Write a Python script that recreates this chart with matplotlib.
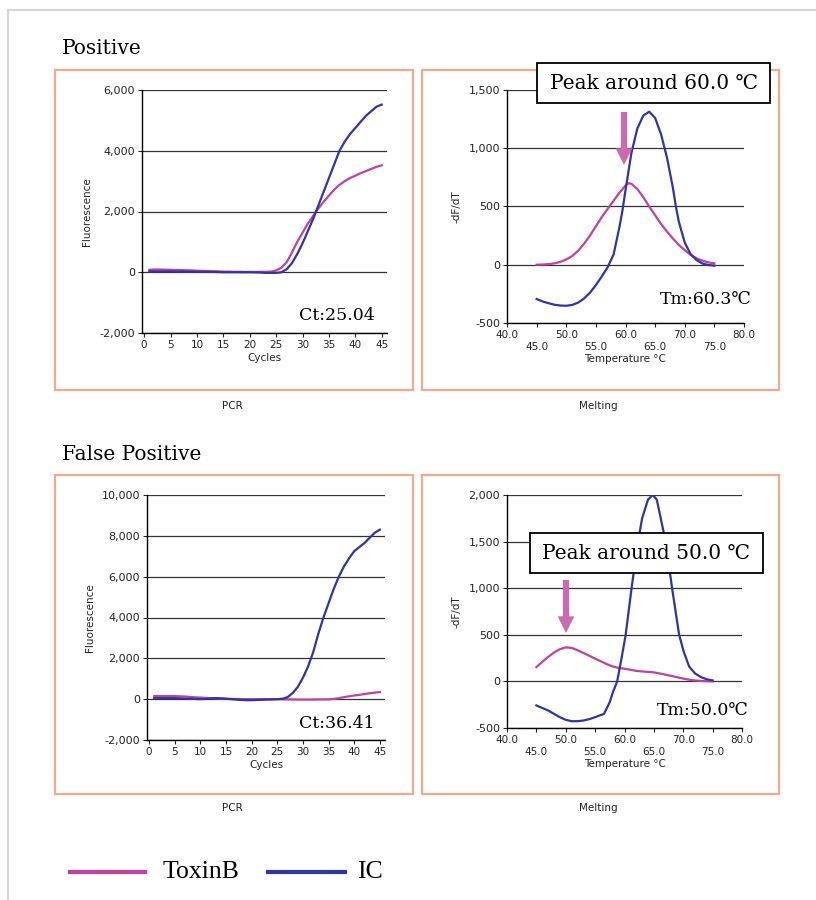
import matplotlib
matplotlib.use("Agg")
import matplotlib.pyplot as plt
from matplotlib.lines import Line2D
from matplotlib.patches import Rectangle
from matplotlib.ticker import FuncFormatter

# ---- data ----
cycles = list(range(1, 46))

pos_toxin = [80, 90, 90, 85, 80, 75, 70, 65, 60, 50, 45, 40, 35, 30, 20, 20, 15, 15, 10, 10,
             10, 15, 15, 20, 60, 150, 330, 650, 1000, 1300, 1600, 1850, 2100, 2320, 2520,
             2720, 2880, 3000, 3100, 3180, 3260, 3330, 3400, 3470, 3520]
pos_ic = [30, 30, 30, 30, 30, 25, 25, 20, 20, 15, 15, 10, 10, 5, 0, 0, 0, 0, 0, 0,
          -5, -10, -20, -20, -20, 0, 100, 300, 600, 950, 1350, 1750, 2200, 2650, 3100,
          3550, 4000, 4300, 4550, 4750, 4950, 5150, 5300, 5450, 5520]

fp_toxin = [150, 150, 150, 150, 150, 140, 130, 110, 90, 80, 60, 50, 40, 30, 20, 15, 10, 5, 0, 0,
            0, 0, 0, 0, 0, -5, -10, -15, -20, -20, -20, -20, -15, -10, -10, 10, 50, 100, 140,
            180, 210, 250, 290, 320, 350]
fp_ic = [50, 50, 50, 50, 50, 40, 30, 20, 10, 0, 10, 30, 50, 40, 20, 0, -20, -40, -50, -50,
         -40, -30, -20, -10, 0, 20, 100, 300, 600, 1050, 1600, 2300, 3200, 4000, 4700,
         5400, 6000, 6500, 6900, 7250, 7450, 7650, 7900, 8150, 8300]

temp_pos_t = [45, 46, 47, 48, 49, 50, 51, 52, 53, 54, 55, 56, 57, 58, 59, 60, 60.5, 61, 62,
              63, 64, 65, 66, 67, 68, 69, 70, 71, 72, 73, 74, 75]
pos_melt_toxin = [0, 2, 5, 12, 25, 45, 75, 120, 180, 250, 330, 410, 480, 550, 620, 680, 700,
                  695, 650, 580, 500, 425, 350, 285, 225, 170, 125, 85, 55, 35, 20, 12]
temp_pos_ic = [45, 46, 47, 48, 49, 50, 51, 52, 53, 54, 55, 56, 57, 58, 59, 59.5, 60, 61, 62,
               63, 64, 65, 66, 67, 68, 68.5, 69, 70, 71, 72, 73, 74, 75]
pos_melt_ic = [-294, -315, -330, -343, -350, -352, -345, -325, -290, -240, -175, -100, -20,
               90, 330, 470, 640, 960, 1170, 1280, 1314, 1260, 1120, 920, 660, 500, 370, 190,
               90, 40, 10, -2, -8]

temp_fp_t = [45, 46, 47, 48, 49, 50, 51, 52, 53, 54, 55, 56, 57, 58, 59, 60, 61, 62, 63, 64,
             65, 66, 67, 68, 69, 70, 71, 72, 73, 74, 75]
fp_melt_toxin = [154, 210, 262, 310, 345, 365, 360, 335, 305, 275, 244, 215, 185, 160, 145,
                 136, 125, 113, 107, 102, 97, 85, 72, 58, 44, 30, 18, 10, 5, 2, 0]
temp_fp_ic = [45, 47, 49, 50, 51, 52, 53, 54, 55, 56, 56.5, 57.5, 58, 58.75, 59.5, 60.2,
              61.2, 62.3, 63, 64, 64.8, 65.5, 66, 67, 68.1, 69.3, 70.1, 71, 72, 73, 74, 75]
fp_melt_ic = [-258, -312, -384, -412, -427, -427, -420, -405, -384, -360, -350, -220, -120, 0,
              250, 500, 1000, 1500, 1750, 1950, 2000, 1950, 1800, 1500, 1000, 500, 315, 160,
              85, 47, 22, 11]

MAGENTA = "#c2409e"
BLUE = "#2f34a6"
ARROW = "#cc6aae"
BOX = "#f2a98e"

W, H = 816, 900
fig = plt.figure(figsize=(W / 100, H / 100), dpi=100)


def px_rect(x0, y0, x1, y1):
    # pixel box (top-left origin) -> figure fraction [l, b, w, h]
    return [x0 / W, 1 - y1 / H, (x1 - x0) / W, (y1 - y0) / H]


def style_axes(ax, ylabel, xlabel):
    for side in ("top", "right"):
        ax.spines[side].set_visible(False)
    ax.spines["left"].set_linewidth(1.0)
    ax.spines["bottom"].set_linewidth(1.0)
    ax.yaxis.grid(True, color="#333333", linewidth=0.9)
    ax.set_axisbelow(True)
    ax.tick_params(direction="out", length=3, width=0.8, labelsize=7.5, colors="#222222", pad=2)
    ax.tick_params(axis="y", labelsize=8)
    ax.yaxis.set_major_formatter(FuncFormatter(lambda v, p: f"{v:,.0f}"))
    ax.set_ylabel(ylabel, fontsize=7.5, color="#222222", labelpad=5)
    ax.set_xlabel(xlabel, fontsize=7.5, color="#222222", labelpad=2)


def pcr_axes(rect, toxin, ic, ymax, ystep):
    ax = fig.add_axes(rect)
    ax.plot(cycles, toxin, color=MAGENTA, lw=1.6)
    ax.plot(cycles, ic, color=BLUE, lw=1.6)
    ax.set_xlim(-0.4, 46)
    ax.set_ylim(-2000, ymax)
    ax.set_yticks(range(-2000, ymax + 1, ystep))
    ax.set_xticks(range(0, 46, 5))
    style_axes(ax, "Fluorescence", "Cycles")
    return ax


def melt_axes(rect, tt, toxin, ti, ic, ymax):
    ax = fig.add_axes(rect)
    ax.plot(tt, toxin, color=MAGENTA, lw=1.6)
    ax.plot(ti, ic, color=BLUE, lw=1.6)
    ax.set_xlim(40, 80)
    ax.set_ylim(-500, ymax)
    ax.set_yticks(range(-500, ymax + 1, 500))
    ticks = list(range(40, 81, 5))
    ax.set_xticks(ticks)
    ax.set_xticklabels([f"{t:.1f}" if t % 10 == 0 else f"\n{t:.1f}" for t in ticks],
                       fontsize=7)
    style_axes(ax, "-dF/dT", "Temperature \u00b0C")
    return ax


# panel frames
for box in [(55, 70, 413, 390), (422, 70, 779, 390), (55, 475, 413, 794), (422, 475, 779, 794)]:
    l, b, w, h = px_rect(*box)
    fig.add_artist(Rectangle((l, b), w, h, transform=fig.transFigure, fill=False,
                             edgecolor=BOX, linewidth=1.6))

# outer light frame
fig.add_artist(Line2D([8 / W, 8 / W, 1], [0, 1 - 10 / H, 1 - 10 / H],
                      transform=fig.transFigure, color="#d6d6d6", lw=1.6))

ax1 = pcr_axes(px_rect(142, 90, 387, 333), pos_toxin, pos_ic, 6000, 2000)
ax2 = melt_axes(px_rect(507, 90, 744, 323), temp_pos_t, pos_melt_toxin,
                temp_pos_ic, pos_melt_ic, 1500)
ax3 = pcr_axes(px_rect(147, 495, 385, 740), fp_toxin, fp_ic, 10000, 2000)
ax4 = melt_axes(px_rect(507, 495, 742, 728), temp_fp_t, fp_melt_toxin,
                temp_fp_ic, fp_melt_ic, 2000)

serif = ["DejaVu Serif", "DejaVu Sans"]
ax1.text(0.951, 0.074, "Ct:25.04", transform=ax1.transAxes, ha="right", va="center",
         fontsize=12.5, family=serif)
ax3.text(0.958, 0.069, "Ct:36.41", transform=ax3.transAxes, ha="right", va="center",
         fontsize=12.5, family=serif)
ax2.text(1.034, 0.099, "Tm:60.3\u2103", transform=ax2.transAxes, ha="right", va="center",
         fontsize=12.5, family=serif)
ax4.text(1.03, 0.077, "Tm:50.0\u2103", transform=ax4.transAxes, ha="right", va="center",
         fontsize=12.5, family=serif)

# section titles
fig.text(62 / W, 1 - 48 / H, "Positive", fontsize=14.5, family=serif, va="center")
fig.text(62 / W, 1 - 455 / H, "False Positive", fontsize=14.5, family=serif, va="center")

# captions under panels
for x, y, s in [(232, 406, "PCR"), (598, 406, "Melting"), (232, 808, "PCR"), (598, 808, "Melting")]:
    fig.text(x / W, 1 - y / H, s, fontsize=7.5, ha="center", va="center", color="#222222")

# peak call-out boxes with arrows
for (x0, y0, x1, y1), label, (ax_, ty0, ty1) in [
        ((537, 63, 770, 103), "Peak around 60.0 \u2103", (624, 112, 165)),
        ((530, 533, 763, 573), "Peak around 50.0 \u2103", (566, 580, 633))]:
    l, b, w, h = px_rect(x0, y0, x1, y1)
    fig.add_artist(Rectangle((l, b), w, h, transform=fig.transFigure, facecolor="white",
                             edgecolor="black", linewidth=1.3, zorder=5))
    fig.text(l + w / 2, b + h / 2, label, fontsize=14.5, family=serif, ha="center",
             va="center", zorder=6)
    fig.add_artist(plt.Annotation("", xy=(ax_ / W, 1 - ty1 / H), xytext=(ax_ / W, 1 - ty0 / H),
                                  xycoords="figure fraction", textcoords="figure fraction",
                                  arrowprops=dict(width=4.5, headwidth=12, headlength=12,
                                                  color=ARROW, lw=0)))

# legend at the bottom
fig.add_artist(Line2D([70 / W, 145 / W], [1 - 872 / H] * 2, transform=fig.transFigure,
                      color=MAGENTA, lw=3))
fig.text(163 / W, 1 - 872 / H, "ToxinB", fontsize=18.5, family="Liberation Serif", va="center")
fig.add_artist(Line2D([268 / W, 345 / W], [1 - 872 / H] * 2, transform=fig.transFigure,
                      color=BLUE, lw=3))
fig.text(357 / W, 1 - 872 / H, "IC", fontsize=18.5, family="Liberation Serif", va="center")

fig.savefig("out.png", dpi=100, facecolor="white")
